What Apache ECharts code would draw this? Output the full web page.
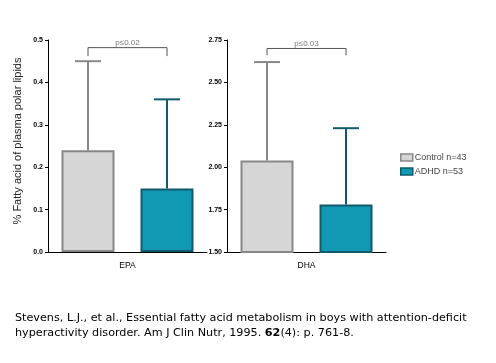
<!DOCTYPE html>
<html><head><meta charset="utf-8">
<script src="https://cdn.jsdelivr.net/npm/echarts@6/dist/echarts.min.js"></script>
<style>html,body{margin:0;padding:0;background:#fff}#c{width:496px;height:363px}</style>
</head><body><div id="c"></div>
<script>
// ---- data ----
const panels = ['EPA', 'DHA'];
const seriesNames = ['Control n=43', 'ADHD n=53'];
const controlMean = [0.24, 2.04];
const controlUpper = [0.45, 2.62];
const adhdMean = [0.15, 1.78];
const adhdUpper = [0.36, 2.23];
const pLabels = ['p\u22640.02', 'p\u22640.03'];
const bracketTop = [0.482, 2.70];
const bracketDrop = [0.020, 0.04];
const yMin = [0.0, 1.5];
const yMax = [0.5, 2.75];
const yStep = [0.1, 0.25];
const yDecimals = [1, 2];
const yTitle = '% Fatty acid of plasma polar lipids';
const citation1 = 'Stevens, L.J., et al., Essential fatty acid metabolism in boys with attention-deficit';
const citation2 = 'hyperactivity disorder. Am J Clin Nutr, 1995. {b|62}(4): p. 761-8.';

// ---- style ----
const BAR_W = 53, GAP = 26;
const OFF = (BAR_W + GAP) / 2;
const colFill = ['#d6d6d6', '#1198b3'];
const colEdge = ['#888888', '#115a6c'];

const grids = [
  {left: 48, top: 40, width: 159, height: 212},
  {left: 227, top: 40, width: 159, height: 212}
];

const xAxes = panels.map((p, i) => ({
  type: 'category', gridIndex: i, data: [p],
  axisLine: {lineStyle: {color: '#000', width: 1}},
  axisTick: {show: false},
  axisLabel: {color: '#000', fontSize: 8.5, fontFamily: 'Liberation Sans', margin: 9}
}));

const yAxes = panels.map((p, i) => ({
  type: 'value', gridIndex: i, min: yMin[i], max: yMax[i], interval: yStep[i],
  axisLine: {show: true, lineStyle: {color: '#000', width: 1}},
  axisTick: {show: true, length: 3, lineStyle: {color: '#000'}},
  splitLine: {show: false},
  axisLabel: {color: '#000', fontSize: 7, fontWeight: 'bold', fontFamily: 'Liberation Sans', margin: 5,
    formatter: v => v.toFixed(yDecimals[i])}
}));

const series = [];
panels.forEach((p, i) => {
  [controlMean, adhdMean].forEach((arr, k) => {
    series.push({
      type: 'bar', name: seriesNames[k], xAxisIndex: i, yAxisIndex: i,
      data: [arr[i]], barWidth: BAR_W, barGap: (GAP / BAR_W * 100) + '%',
      itemStyle: {color: colFill[k], borderColor: colEdge[k], borderWidth: 2},
      z: 2
    });
  });
  // error bars
  series.push({
    type: 'custom', xAxisIndex: i, yAxisIndex: i, z: 1,
    data: [[0, controlMean[i], controlUpper[i], 0], [0, adhdMean[i], adhdUpper[i], 1]],
    renderItem: (params, api) => {
      const k = api.value(3);
      const lo = api.coord([api.value(0), api.value(1)]);
      const hi = api.coord([api.value(0), api.value(2)]);
      const x = lo[0] + (k === 0 ? -OFF : OFF);
      const st = {stroke: colEdge[k], lineWidth: 2};
      return {type: 'group', children: [
        {type: 'line', shape: {x1: x, y1: lo[1], x2: x, y2: hi[1]}, style: st},
        {type: 'line', shape: {x1: x - 13, y1: hi[1], x2: x + 13, y2: hi[1]}, style: st}
      ]};
    }
  });
  // significance bracket
  series.push({
    type: 'custom', xAxisIndex: i, yAxisIndex: i, z: 3,
    data: [[0, bracketTop[i], bracketDrop[i]]],
    renderItem: (params, api) => {
      const top = api.coord([0, api.value(1)]);
      const bot = api.coord([0, api.value(1) - api.value(2)]);
      const xa = top[0] - OFF, xb = top[0] + OFF;
      return {type: 'group', children: [
        {type: 'polyline', shape: {points: [[xa, bot[1]], [xa, top[1]], [xb, top[1]], [xb, bot[1]]]},
          style: {stroke: '#555', lineWidth: 1, fill: null}},
        {type: 'text', style: {text: pLabels[i], x: top[0], y: top[1] - 1, align: 'center', verticalAlign: 'bottom',
          fill: '#777', fontSize: 8, fontFamily: 'Liberation Sans'}}
      ]};
    }
  });
});

const option = {
  backgroundColor: '#fff',
  animation: false,
  grid: grids,
  xAxis: xAxes,
  yAxis: yAxes,
  legend: {
    data: seriesNames.map((n, k) => ({name: n, itemStyle: {color: colFill[k], borderColor: colEdge[k], borderWidth: 1.5}})),
    orient: 'vertical', left: 395, top: 148, itemWidth: 12, itemHeight: 7, itemGap: 5,
    icon: 'rect',
    textStyle: {color: '#444', fontSize: 9, fontFamily: 'Liberation Sans', padding: [0, 0, 0, -3]}
  },
  graphic: [
    {type: 'text', x: 17.5, y: 141, rotation: Math.PI / 2, style: {
      text: yTitle, align: 'center', verticalAlign: 'middle',
      fill: '#222', fontSize: 11, fontFamily: 'Liberation Sans'
    }},
    {type: 'text', left: 15, top: 311, style: {
      text: citation1 + '\n' + citation2,
      fill: '#000', fontSize: 11.2, lineHeight: 15, fontFamily: 'DejaVu Sans',
      rich: {b: {fontWeight: 'bold', fontSize: 11.2, fontFamily: 'DejaVu Sans'}}
    }}
  ],
  series: series
};
const chart = echarts.init(document.getElementById('c'), null, {renderer: 'canvas'});
chart.setOption(option);
</script></body></html>
